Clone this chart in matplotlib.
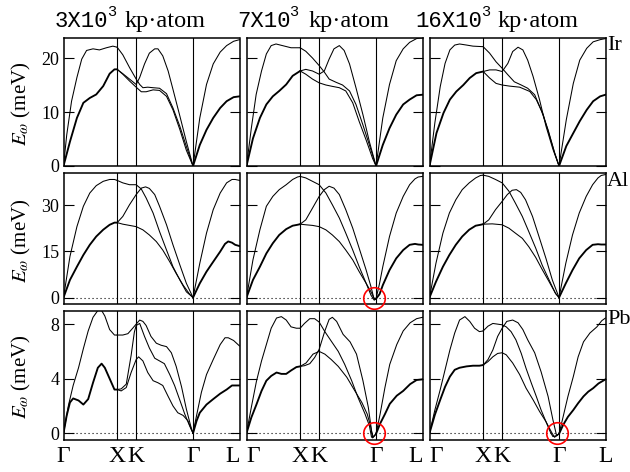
import matplotlib
matplotlib.use("Agg")
import matplotlib.pyplot as plt

plt.rcParams["font.family"] = ["Liberation Serif", "DejaVu Serif"]
plt.rcParams["mathtext.fontset"] = "stix"

# High-symmetry path of the fcc Brillouin zone (units of 2*pi/a)
PATH_POS = [0.0, 1.0, 1.354, 2.414, 3.280]
PATH_LABELS = ["Γ", "X", "K", "Γ", "L"]

ELEMENTS = ["Ir", "Al", "Pb"]
TITLE_MANTISSA = ["3X10", "7X10", "16X10"]
TITLE_EXP = "3"
TITLE_UNIT = "kp·atom"

Y_LIMITS = {"Ir": (0.0, 23.8), "Al": (-2.1, 40.4), "Pb": (-0.5, 9.0)}
Y_TICKS = {"Ir": [0, 10, 20], "Al": [0, 15, 30], "Pb": [0, 4, 8]}

# panels whose soft acoustic modes near Gamma are flagged
FLAGGED = [("Al", 1), ("Pb", 1), ("Pb", 2)]

# ---------------- Ir ----------------
IR1_GX_LA = [(0, 0), (0.06, 5.75), (0.15, 12.0), (0.25, 16.4), (0.34, 19.8), (0.43, 21.4), (0.55, 21.7), (0.67, 21.5), (0.80, 21.9), (0.92, 22.2), (1.0, 22.0)]
IR1_GX_TA = [(0, 0), (0.12, 4.5), (0.25, 8.9), (0.37, 11.7), (0.49, 12.6), (0.61, 13.25), (0.74, 14.8), (0.86, 17.1), (0.95, 17.9), (1.0, 17.9)]
IR1_XG_A = [(1.0, 22.0), (1.105, 20.6), (1.23, 18.25), (1.354, 16.1), (1.42, 15.1), (1.48, 14.5), (1.57, 14.6), (1.67, 14.5), (1.79, 14.4), (1.92, 13.4), (2.04, 10.75), (2.17, 7.3), (2.29, 3.6), (2.414, 0)]
IR1_XG_B = [(1.0, 17.9), (1.105, 17.1), (1.23, 16.1), (1.354, 15.1), (1.42, 16.4), (1.51, 18.9), (1.60, 20.9), (1.70, 21.7), (1.76, 21.7), (1.85, 20.4), (1.95, 17.6), (2.04, 14.2), (2.17, 9.2), (2.29, 4.5), (2.414, 0)]
IR1_XG_C = [(1.0, 17.9), (1.105, 17.0), (1.23, 15.75), (1.354, 14.6), (1.45, 13.75), (1.54, 13.75), (1.67, 14.1), (1.79, 14.0), (1.92, 12.9), (2.04, 10.4), (2.17, 6.7), (2.29, 2.9), (2.414, 0)]
IR1_GL_LA = [(2.414, 0), (2.54, 8.9), (2.665, 15.1), (2.79, 18.9), (2.92, 21.1), (3.04, 22.3), (3.17, 23.1), (3.28, 23.4)]
IR1_GL_TA = [(2.414, 0), (2.54, 3.9), (2.665, 6.7), (2.79, 8.9), (2.92, 10.75), (3.04, 12.0), (3.17, 12.75), (3.28, 12.9)]

IR2_GX_LA = [(0, 0), (0.09, 7.0), (0.18, 13.25), (0.28, 17.6), (0.37, 20.75), (0.46, 22.3), (0.55, 22.6), (0.67, 22.3), (0.83, 21.9), (1.0, 21.9)]
IR2_GX_TA = [(0, 0), (0.12, 5.1), (0.25, 8.9), (0.37, 11.4), (0.49, 12.9), (0.61, 13.9), (0.74, 15.1), (0.86, 16.7), (1.0, 17.6)]
IR2_XG_A = [(1.0, 21.9), (1.105, 21.25), (1.23, 20.0), (1.354, 18.6), (1.45, 17.4), (1.54, 16.1), (1.67, 15.5), (1.79, 15.0), (1.92, 13.9), (2.04, 11.4), (2.17, 7.6), (2.29, 3.9), (2.414, 0)]
IR2_XG_B = [(1.0, 17.6), (1.105, 17.9), (1.23, 17.6), (1.354, 17.0), (1.45, 17.6), (1.54, 19.8), (1.63, 21.7), (1.73, 22.3), (1.82, 21.4), (1.92, 18.9), (2.04, 14.5), (2.17, 9.5), (2.29, 4.5), (2.414, 0)]
IR2_XG_C = [(1.0, 17.6), (1.105, 17.0), (1.23, 16.1), (1.354, 15.4), (1.48, 15.0), (1.60, 14.75), (1.73, 14.5), (1.85, 13.9), (1.98, 11.7), (2.10, 8.25), (2.23, 4.8), (2.35, 1.4), (2.414, 0)]
IR2_GL_LA = [(2.414, 0), (2.54, 8.9), (2.665, 15.1), (2.79, 19.5), (2.92, 21.7), (3.04, 22.9), (3.17, 23.6), (3.28, 23.75)]
IR2_GL_TA = [(2.414, 0), (2.54, 3.9), (2.665, 7.0), (2.79, 9.5), (2.92, 11.4), (3.04, 12.3), (3.17, 13.1), (3.28, 13.2)]

IR3_GX_LA = [(0, 0), (0.10, 8.0), (0.20, 14.7), (0.29, 19.0), (0.38, 21.5), (0.47, 22.4), (0.56, 22.6), (0.69, 22.4), (0.81, 22.2), (1.0, 22.1)]
IR3_GX_TA = [(0, 0), (0.13, 6.1), (0.26, 9.8), (0.38, 12.3), (0.50, 13.8), (0.63, 15.0), (0.75, 16.3), (0.87, 17.2), (1.0, 17.5)]
IR3_XG_A = [(1.0, 22.1), (1.12, 20.9), (1.24, 19.3), (1.354, 18.1), (1.46, 16.9), (1.58, 15.6), (1.71, 15.0), (1.83, 14.4), (1.96, 13.2), (2.08, 10.4), (2.21, 6.7), (2.33, 2.5), (2.414, 0)]
IR3_XG_B = [(1.0, 17.5), (1.12, 17.8), (1.24, 17.8), (1.354, 17.5), (1.46, 19.0), (1.55, 21.2), (1.65, 22.0), (1.74, 21.5), (1.83, 19.6), (1.93, 16.6), (2.05, 12.3), (2.17, 7.4), (2.30, 3.1), (2.414, 0)]
IR3_XG_C = [(1.0, 17.5), (1.12, 16.3), (1.24, 15.3), (1.354, 15.0), (1.49, 14.8), (1.68, 14.6), (1.87, 13.8), (1.99, 12.3), (2.12, 9.5), (2.24, 5.5), (2.33, 2.5), (2.414, 0)]
IR3_GL_LA = [(2.414, 0), (2.55, 8.6), (2.68, 15.3), (2.80, 19.6), (2.93, 21.8), (3.05, 23.0), (3.18, 23.4), (3.28, 23.6)]
IR3_GL_TA = [(2.414, 0), (2.55, 3.7), (2.68, 6.1), (2.80, 8.3), (2.93, 10.4), (3.05, 12.0), (3.18, 12.9), (3.28, 13.2)]

# ---------------- Al ----------------
AL1_GX_LA = [(0, 0), (0.12, 13.3), (0.25, 23.0), (0.37, 29.6), (0.49, 33.9), (0.61, 36.3), (0.74, 37.7), (0.86, 38.3), (0.95, 38.3), (1.0, 38.0)]
AL1_GX_TA = [(0, 0), (0.12, 5.7), (0.25, 10.0), (0.37, 13.8), (0.49, 17.1), (0.61, 19.8), (0.74, 22.0), (0.86, 23.6), (0.95, 24.3), (1.0, 24.3)]
AL1_XG_A = [(1.0, 38.0), (1.105, 37.2), (1.23, 36.6), (1.354, 36.6), (1.45, 35.2), (1.54, 32.3), (1.67, 27.4), (1.79, 21.4), (1.92, 15.4), (2.04, 10.0), (2.17, 5.65), (2.29, 1.85), (2.414, 0)]
AL1_XG_B = [(1.0, 24.3), (1.105, 26.3), (1.23, 30.1), (1.354, 33.4), (1.45, 35.5), (1.53, 35.9), (1.60, 35.4), (1.70, 33.4), (1.79, 29.6), (1.92, 23.6), (2.04, 17.1), (2.17, 10.5), (2.29, 4.6), (2.414, 0)]
AL1_XG_C = [(1.0, 24.3), (1.105, 23.8), (1.23, 23.4), (1.354, 23.0), (1.48, 21.95), (1.60, 20.3), (1.73, 18.15), (1.85, 15.4), (1.98, 11.6), (2.10, 7.8), (2.23, 4.0), (2.35, 1.1), (2.414, 0)]
AL1_GL_LA = [(2.414, 0), (2.54, 11.1), (2.665, 20.9), (2.79, 28.5), (2.92, 33.9), (3.04, 37.2), (3.14, 38.3), (3.20, 38.3), (3.28, 38.0)]
AL1_GL_TA = [(2.414, 0), (2.54, 4.6), (2.665, 8.4), (2.79, 11.6), (2.92, 14.9), (3.01, 17.4), (3.07, 18.2), (3.14, 17.8), (3.20, 17.1), (3.28, 16.7)]

AL2_GX_LA = [(0, 0), (0.12, 12.2), (0.25, 22.0), (0.37, 29.6), (0.49, 32.8), (0.61, 35.0), (0.74, 36.6), (0.86, 38.3), (0.95, 39.1), (1.0, 39.3)]
AL2_GX_TA = [(0, 0), (0.12, 5.7), (0.25, 10.0), (0.37, 14.3), (0.49, 17.6), (0.61, 20.3), (0.74, 22.2), (0.86, 23.3), (0.95, 23.6), (1.0, 23.8)]
AL2_XG_A = [(1.0, 39.3), (1.105, 38.8), (1.23, 37.7), (1.354, 36.6), (1.48, 33.9), (1.60, 30.1), (1.73, 25.8), (1.85, 20.9), (1.98, 15.4), (2.10, 10.0), (2.23, 4.6), (2.32, 0.75), (2.38, -0.85), (2.414, -0.4)]
AL2_XG_B = [(1.0, 23.8), (1.105, 25.2), (1.23, 29.0), (1.354, 32.8), (1.45, 35.0), (1.54, 36.1), (1.63, 35.5), (1.73, 33.4), (1.85, 28.5), (1.98, 22.5), (2.10, 16.0), (2.23, 8.9), (2.32, 3.5), (2.37, 0.0), (2.39, -0.7), (2.414, -0.4)]
AL2_XG_C = [(1.0, 23.8), (1.105, 23.6), (1.23, 23.4), (1.354, 23.0), (1.48, 21.95), (1.60, 20.3), (1.73, 18.15), (1.85, 15.4), (1.98, 12.2), (2.10, 8.4), (2.23, 4.6), (2.32, 1.85), (2.38, -0.3), (2.414, -0.4)]
AL2_GL_LA = [(2.414, -0.4), (2.48, 4.6), (2.54, 10.0), (2.665, 19.8), (2.79, 27.4), (2.92, 32.8), (3.04, 36.6), (3.14, 38.5), (3.20, 39.1), (3.28, 39.3)]
AL2_GL_TA = [(2.414, -0.4), (2.48, 1.1), (2.54, 4.0), (2.665, 8.9), (2.79, 12.7), (2.92, 15.4), (3.04, 17.1), (3.14, 17.4), (3.20, 17.2), (3.28, 17.1)]

AL3_GX_LA = [(0, 0), (0.12, 11.1), (0.25, 20.9), (0.37, 27.4), (0.49, 31.7), (0.61, 35.0), (0.74, 37.2), (0.86, 38.8), (0.95, 39.6), (1.0, 39.7)]
AL3_GX_TA = [(0, 0), (0.12, 5.1), (0.25, 10.0), (0.37, 13.8), (0.49, 17.1), (0.61, 19.8), (0.74, 22.0), (0.86, 23.3), (0.95, 23.6), (1.0, 23.8)]
AL3_XG_A = [(1.0, 39.7), (1.105, 39.3), (1.23, 38.3), (1.354, 37.2), (1.48, 34.5), (1.60, 30.65), (1.73, 26.3), (1.85, 21.4), (1.98, 16.0), (2.10, 10.5), (2.23, 5.65), (2.35, 1.3), (2.414, 0)]
AL3_XG_B = [(1.0, 23.8), (1.105, 25.2), (1.23, 28.5), (1.354, 31.2), (1.45, 33.4), (1.54, 34.8), (1.62, 35.0), (1.70, 34.1), (1.79, 31.7), (1.92, 26.3), (2.04, 19.8), (2.17, 12.7), (2.29, 5.65), (2.414, 0)]
AL3_XG_C = [(1.0, 23.8), (1.17, 23.9), (1.354, 23.6), (1.48, 22.5), (1.60, 20.9), (1.73, 19.2), (1.85, 16.5), (1.98, 13.0), (2.10, 9.1), (2.23, 5.1), (2.35, 1.3), (2.414, 0)]
AL3_GL_LA = [(2.414, 0), (2.54, 11.1), (2.665, 20.3), (2.79, 27.4), (2.92, 32.8), (3.04, 36.6), (3.14, 38.8), (3.20, 39.6), (3.28, 39.9)]
AL3_GL_TA = [(2.414, 0), (2.54, 4.6), (2.665, 8.9), (2.79, 12.7), (2.92, 15.4), (3.04, 17.1), (3.14, 17.3), (3.20, 17.2), (3.28, 17.2)]

# ---------------- Pb ----------------
PB1_GX_LA = [(0, 0), (0.09, 2.0), (0.18, 3.5), (0.28, 4.8), (0.37, 6.2), (0.46, 7.5), (0.55, 8.5), (0.64, 9.0), (0.71, 9.0), (0.77, 8.6), (0.86, 7.6), (0.95, 7.2), (1.0, 7.2)]
PB1_GX_TA = [(0, 0), (0.06, 1.3), (0.12, 2.25), (0.18, 2.55), (0.28, 2.4), (0.37, 2.1), (0.46, 2.5), (0.55, 3.7), (0.64, 4.8), (0.71, 5.1), (0.77, 4.8), (0.86, 4.0), (0.95, 3.2), (1.0, 3.2)]
PB1_XG_A = [(1.0, 7.2), (1.105, 7.2), (1.20, 7.3), (1.29, 7.7), (1.354, 8.0), (1.42, 8.3), (1.48, 8.2), (1.54, 7.9), (1.63, 7.1), (1.73, 6.6), (1.82, 6.45), (1.92, 6.35), (2.01, 5.9), (2.10, 4.9), (2.20, 3.4), (2.29, 1.76), (2.37, 0.54), (2.414, 0)]
PB1_XG_B = [(1.0, 3.2), (1.075, 3.25), (1.17, 3.6), (1.26, 5.7), (1.32, 7.4), (1.354, 7.9), (1.42, 8.05), (1.51, 7.1), (1.60, 6.25), (1.70, 5.5), (1.79, 5.3), (1.88, 5.1), (1.98, 4.3), (2.07, 3.5), (2.17, 2.4), (2.26, 1.4), (2.35, 0.54), (2.414, 0)]
PB1_XG_C = [(1.0, 3.2), (1.075, 3.1), (1.17, 3.35), (1.26, 4.45), (1.354, 5.4), (1.40, 5.6), (1.48, 5.3), (1.57, 4.45), (1.67, 3.85), (1.76, 3.7), (1.85, 3.5), (1.95, 2.7), (2.04, 2.0), (2.13, 1.5), (2.23, 1.3), (2.32, 0.9), (2.38, 0.3), (2.414, 0)]
PB1_GL_LA = [(2.414, 0), (2.48, 1.3), (2.57, 3.0), (2.665, 4.3), (2.79, 5.4), (2.92, 6.5), (3.01, 7.0), (3.07, 7.0), (3.17, 6.8), (3.28, 6.4)]
PB1_GL_TA = [(2.414, 0), (2.48, 0.9), (2.54, 1.5), (2.665, 2.1), (2.79, 2.5), (2.92, 2.9), (3.04, 3.2), (3.14, 3.5), (3.20, 3.5), (3.28, 3.5)]

PB2_GX_LA = [(0, 0), (0.09, 1.9), (0.185, 3.8), (0.28, 5.3), (0.37, 6.5), (0.46, 7.7), (0.56, 8.45), (0.65, 8.55), (0.74, 8.3), (0.83, 7.8), (0.93, 7.7), (1.0, 7.7)]
PB2_GX_TA = [(0, 0), (0.09, 1.15), (0.185, 2.1), (0.28, 3.1), (0.37, 3.85), (0.46, 4.2), (0.56, 4.45), (0.65, 4.35), (0.74, 4.35), (0.83, 4.6), (0.93, 4.85), (1.0, 4.9)]
PB2_XG_A = [(1.0, 7.7), (1.08, 8.05), (1.18, 8.4), (1.27, 8.4), (1.354, 8.15), (1.46, 7.45), (1.58, 6.75), (1.71, 6.0), (1.83, 5.05), (1.96, 3.85), (2.08, 2.6), (2.21, 1.4), (2.29, 0.55), (2.33, -0.3), (2.38, -0.2), (2.414, -0.05)]
PB2_XG_B = [(1.0, 4.9), (1.08, 4.95), (1.18, 5.1), (1.27, 5.55), (1.354, 6.15), (1.46, 7.5), (1.54, 8.35), (1.60, 8.5), (1.68, 8.2), (1.80, 7.25), (1.93, 6.7), (2.05, 5.8), (2.17, 3.85), (2.27, 1.9), (2.33, 0.2), (2.36, -0.3), (2.414, -0.05)]
PB2_XG_C = [(1.0, 4.9), (1.11, 5.15), (1.24, 5.8), (1.354, 6.0), (1.46, 5.8), (1.58, 5.4), (1.71, 4.9), (1.87, 4.1), (2.02, 3.1), (2.15, 2.25), (2.25, 1.4), (2.31, 0.55), (2.35, -0.35), (2.414, -0.05)]
PB2_GL_LA = [(2.414, -0.05), (2.49, 1.4), (2.58, 3.35), (2.67, 5.05), (2.80, 6.5), (2.92, 7.5), (3.05, 8.1), (3.17, 8.4), (3.28, 8.5)]
PB2_GL_TA = [(2.414, -0.05), (2.49, 0.7), (2.58, 1.4), (2.67, 2.15), (2.80, 2.75), (2.92, 3.1), (3.05, 3.6), (3.17, 3.9), (3.28, 3.95)]

PB3_GX_LA = [(0, 0), (0.10, 1.7), (0.20, 3.2), (0.29, 4.65), (0.38, 6.1), (0.47, 7.35), (0.56, 8.3), (0.66, 8.55), (0.75, 8.2), (0.84, 7.7), (0.93, 7.45), (1.0, 7.5)]
PB3_GX_TA = [(0, 0), (0.10, 1.35), (0.20, 2.45), (0.29, 3.4), (0.38, 4.15), (0.47, 4.65), (0.56, 4.8), (0.69, 4.9), (0.81, 4.95), (0.93, 4.95), (1.0, 5.0)]
PB3_XG_A = [(1.0, 7.5), (1.09, 7.85), (1.18, 8.05), (1.27, 8.0), (1.354, 7.95), (1.43, 7.8), (1.52, 7.45), (1.61, 6.85), (1.71, 5.85), (1.80, 4.75), (1.90, 3.65), (1.99, 2.7), (2.08, 1.7), (2.17, 0.85), (2.25, 0.1), (2.30, -0.25), (2.35, -0.2), (2.414, -0.05)]
PB3_XG_B = [(1.0, 5.0), (1.09, 5.4), (1.18, 6.1), (1.27, 7.1), (1.354, 7.7), (1.44, 8.2), (1.55, 8.3), (1.65, 8.1), (1.74, 7.6), (1.83, 6.85), (1.96, 5.9), (2.08, 4.5), (2.21, 2.7), (2.30, 0.98), (2.37, -0.2), (2.414, -0.05)]
PB3_XG_C = [(1.0, 5.0), (1.09, 5.25), (1.18, 5.6), (1.27, 5.85), (1.354, 5.9), (1.43, 5.75), (1.55, 5.15), (1.68, 4.3), (1.80, 3.3), (1.93, 2.45), (2.05, 1.6), (2.17, 0.85), (2.27, 0.1), (2.33, -0.3), (2.414, -0.05)]
PB3_GL_LA = [(2.414, -0.05), (2.49, 1.2), (2.58, 2.7), (2.68, 4.15), (2.77, 5.6), (2.87, 6.7), (2.99, 7.35), (3.12, 7.8), (3.21, 8.25), (3.28, 8.45)]
PB3_GL_TA = [(2.414, -0.05), (2.49, 0.6), (2.58, 1.2), (2.68, 1.7), (2.77, 2.2), (2.87, 2.7), (2.96, 3.05), (3.05, 3.3), (3.15, 3.65), (3.28, 3.95)]

# thin branches (non-degenerate) and degenerate transverse branches per panel
PANELS = {
    ("Ir", 0): ([IR1_GX_LA, IR1_XG_A, IR1_XG_B, IR1_XG_C, IR1_GL_LA], [IR1_GX_TA, IR1_GL_TA]),
    ("Ir", 1): ([IR2_GX_LA, IR2_XG_A, IR2_XG_B, IR2_XG_C, IR2_GL_LA], [IR2_GX_TA, IR2_GL_TA]),
    ("Ir", 2): ([IR3_GX_LA, IR3_XG_A, IR3_XG_B, IR3_XG_C, IR3_GL_LA], [IR3_GX_TA, IR3_GL_TA]),
    ("Al", 0): ([AL1_GX_LA, AL1_XG_A, AL1_XG_B, AL1_XG_C, AL1_GL_LA], [AL1_GX_TA, AL1_GL_TA]),
    ("Al", 1): ([AL2_GX_LA, AL2_XG_A, AL2_XG_B, AL2_XG_C, AL2_GL_LA], [AL2_GX_TA, AL2_GL_TA]),
    ("Al", 2): ([AL3_GX_LA, AL3_XG_A, AL3_XG_B, AL3_XG_C, AL3_GL_LA], [AL3_GX_TA, AL3_GL_TA]),
    ("Pb", 0): ([PB1_GX_LA, PB1_XG_A, PB1_XG_B, PB1_XG_C, PB1_GL_LA], [PB1_GX_TA, PB1_GL_TA]),
    ("Pb", 1): ([PB2_GX_LA, PB2_XG_A, PB2_XG_B, PB2_XG_C, PB2_GL_LA], [PB2_GX_TA, PB2_GL_TA]),
    ("Pb", 2): ([PB3_GX_LA, PB3_XG_A, PB3_XG_B, PB3_XG_C, PB3_GL_LA], [PB3_GX_TA, PB3_GL_TA]),
}

# ---------------- layout (pixels of a 630x472 canvas) ----------------
W, H = 630, 472
COL_LEFT = [63.5, 246.5, 429.5]
COL_WIDTH = 176.0
ROW_TOP = [37.5, 173.0, 310.5]
ROW_BOTTOM = [166.0, 304.0, 440.0]

fig = plt.figure(figsize=(W / 100, H / 100), dpi=100)


def px_text(x, y, s, **kw):
    return fig.text(x / W, 1 - y / H, s, **kw)


for r, elem in enumerate(ELEMENTS):
    for c in range(3):
        rect = [COL_LEFT[c] / W, 1 - ROW_BOTTOM[r] / H, COL_WIDTH / W,
                (ROW_BOTTOM[r] - ROW_TOP[r]) / H]
        ax = fig.add_axes(rect)
        thin, thick = PANELS[(elem, c)]
        for br in thin:
            ax.plot([p[0] for p in br], [p[1] for p in br], color="black",
                    lw=0.75, solid_joinstyle="round")
        for br in thick:
            ax.plot([p[0] for p in br], [p[1] for p in br], color="black",
                    lw=1.35, solid_joinstyle="round")
        for xv in PATH_POS[1:4]:
            ax.axvline(xv, color="black", lw=0.8)
        if Y_LIMITS[elem][0] < 0:
            ax.axhline(0, color="black", lw=0.8, ls=(0, (1, 2.6)))
        ax.set_xlim(PATH_POS[0], PATH_POS[-1])
        ax.set_ylim(*Y_LIMITS[elem])
        ax.set_yticks(Y_TICKS[elem])
        ax.tick_params(axis="y", direction="in", left=True, right=True,
                       length=7, width=0.8, labelsize=13, pad=3,
                       labelleft=(c == 0))
        ax.set_xticks(PATH_POS)
        if r == 2:
            labels = ax.set_xticklabels(PATH_LABELS, fontsize=17)
            # keep neighbouring L / Γ labels apart at the panel joints
            if c > 0:
                labels[0].set_horizontalalignment("left")
            if c < 2:
                labels[-1].set_horizontalalignment("right")
        else:
            ax.set_xticklabels([])
        ax.tick_params(axis="x", length=0, pad=4)
        for sp in ax.spines.values():
            sp.set_linewidth(1.1)
        if (elem, c) in FLAGGED:
            ax.plot(PATH_POS[3] - 0.03, 0.0, marker="o", ms=15.5,
                    mfc="none", mec="red", mew=1.2, clip_on=False, zorder=5)
    # element name at the right of the row
    px_text(607, ROW_TOP[r] - 1, elem, fontsize=16, ha="left", va="top")
    # energy axis label
    px_text(21, (ROW_TOP[r] + ROW_BOTTOM[r]) / 2 + 2, r"$E_{\omega}$ (meV)",
            fontsize=15, rotation=90, ha="center", va="center")

# column titles: k-point density
TITLE_X = [(55, 107, 125), (237, 289, 309), (415, 481, 498)]
for c, mant in enumerate(TITLE_MANTISSA):
    xm, xe, xu = TITLE_X[c]
    px_text(xm, 27, mant, family="Liberation Mono", fontsize=16, va="baseline")
    px_text(xe, 16, TITLE_EXP, family="Liberation Mono", fontsize=11, va="baseline")
    px_text(xu, 27, TITLE_UNIT, fontsize=17.5, va="baseline")

fig.savefig("out.png", dpi=100)
